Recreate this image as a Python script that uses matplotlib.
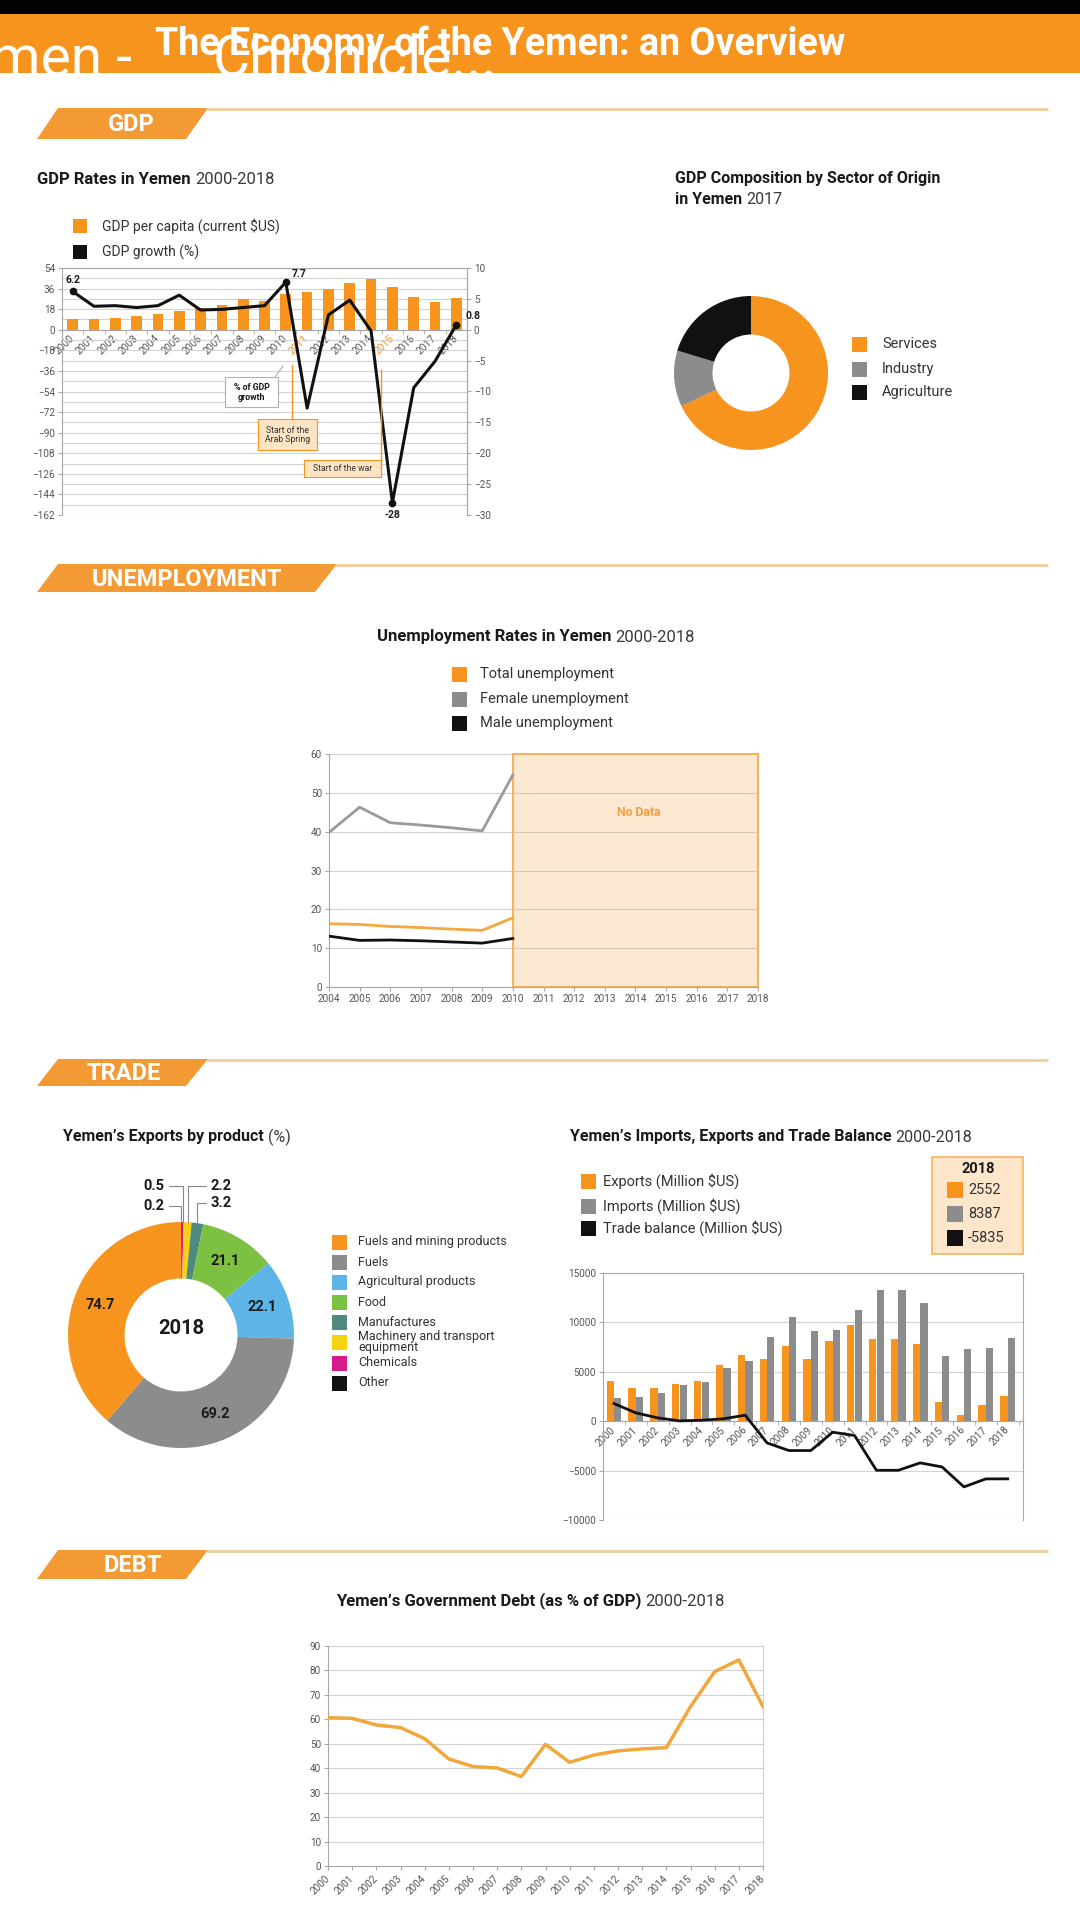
import numpy as np
import matplotlib
matplotlib.use('Agg')
import matplotlib.pyplot as plt
from matplotlib.patches import Rectangle, Polygon

plt.rcParams['font.family'] = ['Roboto', 'DejaVu Sans']

W, H = 1080, 1923

# ---------------- data ----------------
years = list(range(2000, 2019))
gdp_per_capita = [9, 9, 10.5, 12, 13.5, 16.5, 18.6, 21.6, 27, 25.5, 31.5, 33, 36, 41, 44, 37.5, 28.5, 24.6, 28]
gdp_growth = [6.2, 3.8, 3.9, 3.6, 3.9, 5.6, 3.2, 3.3, 3.6, 3.9, 7.7, -12.7, 2.4, 4.8, -0.2, -28, -9.4, -5.1, 0.8]
growth_labelled_years = [2000, 2010, 2015, 2018]
highlight_years = ['2011', '2015']

sectors = ['Services', 'Industry', 'Agriculture']
sector_share = [67.9, 11.8, 20.3]

unemp_years = [2004, 2005, 2006, 2007, 2008, 2009, 2010]
unemp_total = [16.3, 16.1, 15.6, 15.3, 14.9, 14.6, 17.8]
unemp_female = [39.8, 46.3, 42.3, 41.7, 41.0, 40.2, 54.6]
unemp_male = [13.1, 12.0, 12.1, 11.9, 11.6, 11.3, 12.5]
unemp_axis_years = list(range(2004, 2019))

export_products = ['Fuels and mining products', 'Fuels', 'Agricultural products', 'Food',
                   'Manufactures', 'Machinery and transport\nequipment', 'Chemicals', 'Other']
export_share = [74.7, 69.2, 22.1, 21.1, 3.2, 2.2, 0.5, 0.2]

exports = [4050, 3380, 3310, 3720, 4050, 5640, 6650, 6250, 7600, 6250, 8070, 9700, 8280, 8280, 7770, 1925, 640, 1590, 2552]
imports = [2300, 2430, 2870, 3650, 3950, 5340, 6050, 8510, 10500, 9150, 9250, 11250, 13240, 13240, 12000, 6590, 7300, 7430, 8387]
trade_balance = [1790, 845, 340, 30, 100, 240, 610, -2200, -2970, -2970, -1115, -1450, -4970, -4970, -4220, -4630, -6650, -5840, -5835]

debt = [60.7, 60.4, 57.7, 56.6, 52.1, 43.8, 40.7, 40.1, 36.6, 49.8, 42.4, 45.4, 47.1, 47.9, 48.4, 65.2, 79.5, 84.3, 65.2]

# ---------------- styles ----------------
ORANGE = '#f7941d'
TAB = '#f39a35'
GRAY = '#8c8c8c'
BLACK = '#111111'
TICK = '#555555'
GRID = '#d2d2d2'
SPINE = '#a8a8a8'
DARK = '#1a1a1a'

fig = plt.figure(figsize=(W / 100, H / 100), dpi=100)
fig.patch.set_facecolor('white')

def pix_axes(zorder):
    a = fig.add_axes([0, 0, 1, 1], zorder=zorder)
    a.set_xlim(0, W)
    a.set_ylim(H, 0)
    a.axis('off')
    return a

bg = pix_axes(-5)
ov = pix_axes(20)
r = fig.canvas.get_renderer()


def add_ax(x0, y0, x1, y1):
    a = fig.add_axes([x0 / W, 1 - y1 / H, (x1 - x0) / W, (y1 - y0) / H])
    a.set_facecolor('none')
    return a


def style(a):
    for s in a.spines.values():
        s.set_color(SPINE)
        s.set_linewidth(0.8)
    a.tick_params(colors=SPINE, labelcolor=TICK, labelsize=7.2, length=3, width=0.8, pad=2)


def mixed(x, y, bold, reg, size, ha='left'):
    t1 = bg.text(x, y, bold, fontsize=size, fontweight='bold', va='center', ha='left', color=DARK)
    t2 = bg.text(x, y, reg, fontsize=size, va='center', ha='left', color='#3a3a3a')
    w1 = t1.get_window_extent(r).width
    w2 = t2.get_window_extent(r).width
    gap = size * 0.35
    x0 = x - (w1 + gap + w2) / 2 if ha == 'center' else x
    t1.set_x(x0)
    t2.set_x(x0 + w1 + gap)


def legend_row(x, y, color, label, size=10.5, tx=None, sq=15):
    bg.add_patch(Rectangle((x, y - sq / 2), sq, sq, color=color, lw=0))
    bg.text(tx if tx is not None else x + sq + 14, y, label, fontsize=size, va='center', ha='left',
            color='#333333', linespacing=0.85)


# ---------------- header ----------------
bg.add_patch(Rectangle((0, 0), W, 14, color='black', lw=0))
bg.add_patch(Rectangle((0, 14), W, 59, color=ORANGE, lw=0))
bg.text(500, 55, 'The Economy of the Yemen: an Overview', color='white', fontsize=27,
        fontweight='bold', ha='center', va='baseline', zorder=3)
bg.text(132, 76, 'Yemen -', color='white', fontsize=41, ha='right', va='baseline', zorder=2)
bg.text(213, 76, 'Chronicle...', color='white', fontsize=41, ha='left', va='baseline', zorder=2)
bg.add_patch(Rectangle((0, 73), W, 20, color='white', lw=0, zorder=2.5))


def tab(ytop, ybot, xr, label, cx):
    bg.add_patch(Polygon([(37, ybot), (58, ytop), (xr, ytop), (xr - 22, ybot)], closed=True,
                         color=TAB, lw=0))
    bg.plot([xr - 2, 1048], [ytop + 1, ytop + 1], color='#efcd9c', lw=2, solid_capstyle='butt')
    bg.text(cx, (ytop + ybot) / 2 + 1, label, color='white', fontsize=17, fontweight='bold',
            ha='center', va='center')


tab(108, 139, 208, 'GDP', 131)
tab(564, 592, 337, 'UNEMPLOYMENT', 187)
tab(1059, 1086, 208, 'TRADE', 124)
tab(1550, 1579, 208, 'DEBT', 133)

# ---------------- GDP rates chart ----------------
mixed(37, 180, 'GDP Rates in Yemen', '2000-2018', 12)
legend_row(73, 226, ORANGE, 'GDP per capita (current $US)', size=10, tx=102, sq=14)
legend_row(73, 252, BLACK, 'GDP growth (%)', size=10, tx=102, sq=14)

ax = add_ax(62, 268, 467, 515)
x = np.arange(len(years))
ax.bar(x, gdp_per_capita, width=0.5, color=ORANGE, zorder=3)
ax.set_xlim(-0.4, 18.5)
ax.set_ylim(-162, 54)
ax.set_yticks(np.arange(-162, 55, 18))
ax.set_yticks(np.arange(-162, 55, 9), minor=True)
ax.yaxis.grid(True, which='both', color=GRID, lw=0.8)
ax.set_axisbelow(True)
style(ax)
ax.tick_params(axis='y', which='minor', length=0)
ax.spines['bottom'].set_position(('data', 0))
ax.set_xticks(x)
ax.set_xticklabels([str(y) for y in years], rotation=45, ha='right', va='center',
                   rotation_mode='anchor', fontsize=7.3)
ax.set_xticks(np.arange(-0.5, 19, 1), minor=True)
ax.tick_params(axis='x', which='major', length=0, pad=5)
ax.tick_params(axis='x', which='minor', length=3, color=SPINE)
for lbl in ax.get_xticklabels():
    if lbl.get_text() in highlight_years:
        lbl.set_color(ORANGE)

ax2 = ax.twinx()
ax2.set_ylim(-30, 10)
ax2.set_yticks(np.arange(-30, 11, 5))
style(ax2)
for s in ['top', 'bottom', 'left']:
    ax2.spines[s].set_visible(False)
ax2.plot(x, gdp_growth, color=BLACK, lw=2.2, zorder=5)
lab_idx = [years.index(y) for y in growth_labelled_years]
ax2.plot(lab_idx, [gdp_growth[i] for i in lab_idx], 'o', color=BLACK, ms=4.5, zorder=6)
offsets = {2000: (0, 6, 'center', 'bottom'), 2010: (6, 3, 'left', 'bottom'),
           2015: (0, -7, 'center', 'top'), 2018: (9, 4, 'left', 'bottom')}
for yv in growth_labelled_years:
    i = years.index(yv)
    dx, dy, ha, va = offsets[yv]
    v = gdp_growth[i]
    ax2.annotate(f'{v:g}', (i, v), xytext=(dx, dy), textcoords='offset pixels', ha=ha, va=va,
                 fontsize=7.5, fontweight='bold', color=DARK, annotation_clip=False)

# annotation boxes
ov.add_patch(Rectangle((225, 377), 53, 30, facecolor='white', edgecolor='#b0b0b0', lw=0.8))
ov.text(251.5, 392.5, '% of GDP\ngrowth', fontsize=6.3, fontweight='bold', ha='center', va='center',
        linespacing=1.0, color=DARK)
ov.plot([275, 283], [377, 366], color='#b0b0b0', lw=0.8)
ov.plot([292, 292], [365, 419], color=ORANGE, lw=1)
ov.add_patch(Rectangle((258, 419), 59, 31, facecolor='#fde4c4', edgecolor=ORANGE, lw=0.8))
ov.text(287.5, 435, 'Start of the\nArab Spring', fontsize=6.2, ha='center', va='center',
        linespacing=1.0, color='#333333')
ov.plot([381, 381], [370, 468], color=ORANGE, lw=1)
ov.add_patch(Rectangle((304, 460), 77, 17, facecolor='#fde4c4', edgecolor=ORANGE, lw=0.8))
ov.text(342.5, 468.5, 'Start of the war', fontsize=6.2, ha='center', va='center', color='#333333')

# ---------------- GDP composition donut ----------------
bg.text(675, 179, 'GDP Composition by Sector of Origin', fontsize=11.5, fontweight='bold',
        va='center', color=DARK)
mixed(675, 199, 'in Yemen', '2017', 11.5)
axd = add_ax(751 - 90, 373 - 90, 751 + 90, 373 + 90)
axd.pie(sector_share, colors=[ORANGE, GRAY, BLACK], startangle=90, counterclock=False, radius=1,
        wedgeprops=dict(width=0.5, edgecolor='none'))
lim = 90 / 77
axd.set_xlim(-lim, lim)
axd.set_ylim(-lim, lim)
axd.axis('off')
for yy, c, lab in zip([344, 369, 392], [ORANGE, GRAY, BLACK], sectors):
    legend_row(852, yy, c, lab, size=10.5, tx=882)

# ---------------- Unemployment ----------------
mixed(536, 637, 'Unemployment Rates in Yemen', '2000-2018', 12, ha='center')
legend_row(452, 674, ORANGE, 'Total unemployment', size=10.5, tx=480)
legend_row(452, 699, GRAY, 'Female unemployment', size=10.5, tx=480)
legend_row(452, 723, BLACK, 'Male unemployment', size=10.5, tx=480)

axu = add_ax(329, 754, 758, 987)
axu.set_xlim(2004, 2018)
axu.set_ylim(0, 60)
axu.set_yticks(np.arange(0, 61, 10))
axu.set_xticks(unemp_axis_years)
axu.yaxis.grid(True, color=GRID, lw=0.8)
axu.set_axisbelow(True)
style(axu)
axu.spines['top'].set_visible(False)
axu.spines['right'].set_visible(False)
axu.add_patch(Rectangle((2010, 0), 8, 60, facecolor=(0.97, 0.58, 0.11, 0.2), edgecolor='#f5b35f',
                        lw=1.5, clip_on=False, zorder=1))
axu.text(2014.1, 45, 'No Data', color='#f5a040', fontsize=8.8, fontweight='bold', ha='center',
         va='center')
axu.plot(unemp_years, unemp_female, color='#9a9a9a', lw=2, zorder=3)
axu.plot(unemp_years, unemp_total, color='#f5a742', lw=2, zorder=3)
axu.plot(unemp_years, unemp_male, color=BLACK, lw=2, zorder=3)

# ---------------- Exports donut ----------------
mixed(63, 1137, 'Yemen\u2019s Exports by product', '(%)', 11.5)
cx, cy, R = 181, 1335, 113
lim = 1.5
axe = add_ax(cx - lim * R, cy - lim * R, cx + lim * R, cy + lim * R)
exp_colors = [ORANGE, GRAY, '#5cb5e6', '#7dc142', '#4e8a80', '#f6d20f', '#d81b8c', BLACK]
pie_vals = export_share[::-1]
pie_cols = exp_colors[::-1]
wedges, _ = axe.pie(pie_vals, colors=pie_cols, startangle=90, counterclock=False, radius=1,
                    wedgeprops=dict(width=0.5, edgecolor='none'))
axe.set_xlim(-lim, lim)
axe.set_ylim(-lim, lim)
axe.axis('off')
axe.text(0, 0.06, '2018', fontsize=14.5, fontweight='bold', ha='center', va='center', color=DARK)

small_pos = {0.2: (-0.13, 1.14, 'right'), 0.5: (-0.13, 1.32, 'right'),
             2.2: (0.24, 1.32, 'left'), 3.2: (0.24, 1.17, 'left')}
for w, v in zip(wedges, pie_vals):
    mid = np.deg2rad((w.theta1 + w.theta2) / 2)
    if v >= 10:
        rr = 0.76
        axe.text(rr * np.cos(mid), rr * np.sin(mid), f'{v:g}', fontsize=10.5, fontweight='bold',
                 ha='center', va='center', color=DARK)
    else:
        lx, ly, ha = small_pos[v]
        px, py = np.cos(mid), np.sin(mid)
        xe = lx + (0.02 if ha == 'right' else -0.02)
        axe.plot([px, px, xe], [py, ly, ly], color='#888888', lw=0.8, clip_on=False)
        axe.text(lx + (-0.02 if ha == 'right' else 0.02), ly, f'{v:g}', fontsize=10.5,
                 fontweight='bold', ha=ha, va='center', color=DARK)

for yy, c, lab in zip([1242, 1262, 1282, 1302, 1322, 1342, 1363, 1383], exp_colors, export_products):
    legend_row(332, yy, c, lab, size=9, tx=358)

# ---------------- Trade chart ----------------
mixed(570, 1137, 'Yemen\u2019s Imports, Exports and Trade Balance', '2000-2018', 11.5)
legend_row(581, 1181, ORANGE, 'Exports (Million $US)', size=10.5, tx=603)
legend_row(581, 1206, GRAY, 'Imports (Million $US)', size=10.5, tx=603)
legend_row(581, 1228, BLACK, 'Trade balance (Million $US)', size=10.5, tx=603)

bg.add_patch(Rectangle((932, 1157), 91, 97, facecolor='#fde6c9', edgecolor='#f5b35f', lw=1.2))
bg.text(978, 1169, str(years[-1]), fontsize=10.5, fontweight='bold', ha='center', va='center',
        color=DARK)
for yy, c, v in zip([1190, 1214, 1238], [ORANGE, GRAY, BLACK],
                    [exports[-1], imports[-1], trade_balance[-1]]):
    legend_row(947, yy, c, f'{v}', size=10.5, tx=968, sq=16)

axt = add_ax(603, 1273, 1023, 1520)
xt = np.arange(len(years))
axt.bar(xt - 0.17, exports, width=0.33, color=ORANGE, zorder=3)
axt.bar(xt + 0.17, imports, width=0.33, color=GRAY, zorder=3)
axt.plot(xt, trade_balance, color=BLACK, lw=2, zorder=5)
axt.set_xlim(-0.5, 18.7)
axt.set_ylim(-10000, 15000)
axt.set_yticks(np.arange(-10000, 15001, 5000))
axt.yaxis.grid(True, color=GRID, lw=0.8)
axt.set_axisbelow(True)
style(axt)
axt.spines['bottom'].set_position(('data', 0))
axt.set_xticks(xt)
axt.set_xticklabels([str(y) for y in years], rotation=45, ha='right', va='center',
                    rotation_mode='anchor', fontsize=7.3)
axt.set_xticks(np.arange(-0.5, 19, 1), minor=True)
axt.tick_params(axis='x', which='major', length=0, pad=5)
axt.tick_params(axis='x', which='minor', length=3, color=SPINE)

# ---------------- Debt chart ----------------
mixed(530, 1601, 'Yemen\u2019s Government Debt (as % of GDP)', '2000-2018', 12, ha='center')
axb = add_ax(328, 1646, 763, 1866)
axb.plot(years, debt, color='#f0a83c', lw=2.5, zorder=3)
axb.set_xlim(2000, 2018)
axb.set_ylim(0, 90)
axb.set_yticks(np.arange(0, 91, 10))
axb.set_xticks(years)
axb.set_xticklabels([str(y) for y in years], rotation=45, ha='right', va='center',
                    rotation_mode='anchor', fontsize=7.5)
axb.yaxis.grid(True, color=GRID, lw=0.8)
axb.set_axisbelow(True)
style(axb)
axb.tick_params(axis='x', pad=5)
axb.spines['top'].set_visible(False)
axb.spines['right'].set_color('#d0d0d0')

fig.savefig('out.png', dpi=100)
